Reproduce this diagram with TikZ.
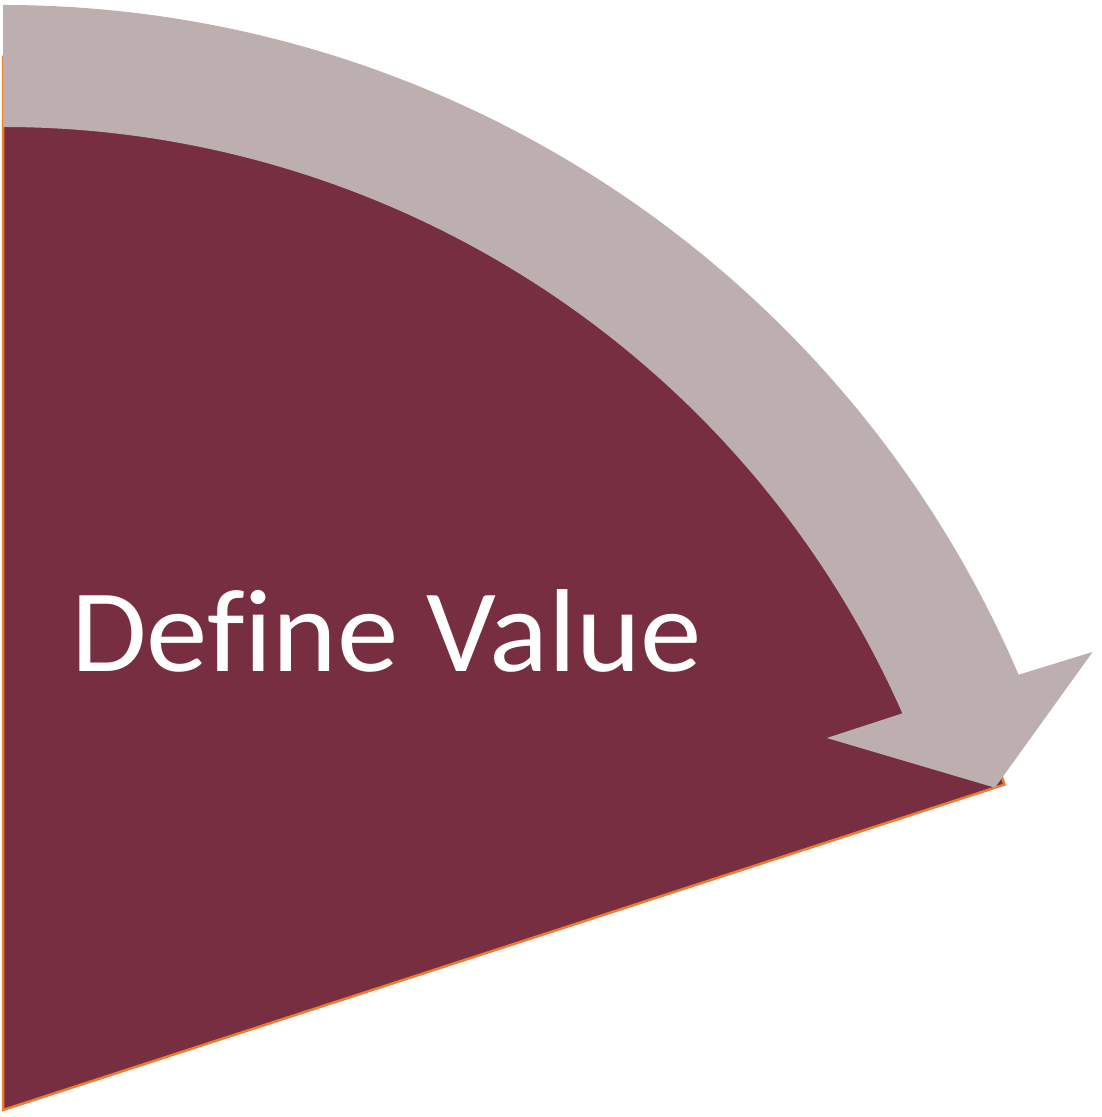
\documentclass[tikz,border=0pt]{standalone}
\usepackage{fontspec}
\usetikzlibrary{calc}
\newfontfamily\carlito[Ligatures=NoCommon]{Carlito}
\definecolor{maroon}{RGB}{119,46,64}
\definecolor{arrowgrey}{RGB}{189,174,175}
\definecolor{edgeorange}{RGB}{237,125,49}
\begin{document}
\begin{tikzpicture}[x=1pt,y=1pt,
  sectorfill/.style={fill=maroon,draw=edgeorange,line width=2.5pt,line join=miter},
  arrowfill/.style={fill=arrowgrey,draw=none},
  labeltext/.style={text=white,font=\carlito\fontsize{118}{120}\selectfont,inner sep=0pt,anchor=base west,xscale=1.042}]
\useasboundingbox (0,0) rectangle (1101,1117);
\coordinate (C) at (3,7);
% sector
\path[sectorfill] (C) -- ++(18:1053) arc[start angle=18,end angle=90,radius=1053] -- cycle;
% curved arrow
\path[arrowfill] ($(C)+(90:1105)$) arc[start angle=90,end angle=23.2,radius=1105]
  -- ($(C)+(22.8:1182)$) -- ($(C)+(18.0:1043)$) -- ($(C)+(24.3:904)$)
  -- ($(C)+(23.8:983)$) arc[start angle=23.8,end angle=90,radius=983] -- cycle;
\node[labeltext] (lbl) at (71,445) {Define Value};
\end{tikzpicture}
\end{document}
